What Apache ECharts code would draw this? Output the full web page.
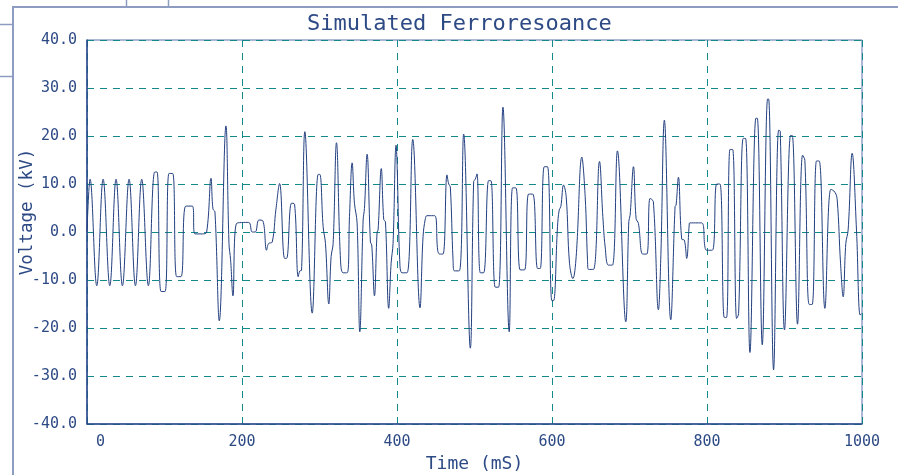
<!DOCTYPE html>
<html>
<head>
<meta charset="utf-8">
<script src="https://cdn.jsdelivr.net/npm/echarts@6/dist/echarts.min.js"></script>
<style>html,body{margin:0;padding:0;background:#fff;}#c{width:898px;height:475px;}</style>
</head>
<body>
<div id="c"></div>
<script>
// ---- data ----
const titleText = 'Simulated Ferroresoance';
const xName = 'Time (mS)';
const yName = 'Voltage (kV)';
const xTicks = [0, 200, 400, 600, 800, 1000];
const yTicks = [-40, -30, -20, -10, 0, 10, 20, 30, 40];

const timeMs = [
  0,4,12.6,20.8,29.4,37.5,45.7,54.3,62.5,70.6,79.2,87.4,90.4,95.5,100.7,105.8,110.6,115.7,121.3,127.5,
  135.9,139.3,148.8,154.4,160,162.5,165.1,170.7,179.3,183.2,185.3,188.3,193,208.5,213.2,217.1,221.8,227,231.7,234.3,
  239,243.7,248.5,255,257.5,263.9,267.8,272.5,274.7,276.8,281.1,290.6,298.3,300.4,304.7,307.7,312,315,317.6,321.9,
  327.1,330.5,335.7,338.7,342.1,345.1,348.5,352,356.3,358,361.4,365.7,367.4,370.9,374.3,375.6,379.7,382.9,385.1,389.3,
  392.4,394.9,398.8,400.1,403.5,406.5,413,420.3,429.7,433.6,436.6,438.7,448.6,452.5,455.1,459.4,464.5,466.7,468.8,472.3,
  474,480.4,486,494.6,498.9,501,503.2,507.5,511.8,518.2,521.2,526.8,531.1,536.7,544.8,549.1,553.4,559,564.6,569.8,
  575.3,581.4,584.8,590,594.2,599.8,602,607.1,609.3,611.4,614.9,618.3,622.6,626.9,631.2,638.5,642.8,645.8,647.1,653.5,
  661.3,665.6,668.6,672.8,678,684.4,695.2,699.1,700.8,705.1,708.5,711.5,717.1,722.3,726.5,730.8,737.3,740.3,745,753.2,
  758.8,760.1,763.1,767.4,770.8,773.8,777.2,778.1,793.1,797.4,799.6,806.9,812.5,816.8,822.3,825.3,829.6,833.1,838.2,840.8,
  846.8,849.8,855.4,863.1,864.9,871.3,878.2,879.5,885.9,892.4,894.5,900,907.8,910,916.8,923.3,926.3,931.9,935.7,941.3,
  944.8,952.1,959.8,965,968,972.3,975.7,979.1,982.1,987.3,992.9,997.6,999.5
];
const voltageKV = [
  0,11,-11.2,11,-11.2,11,-11.2,11,-11.2,11,-11.2,12.5,12.5,-12.4,-12.4,12.2,12.2,-9.3,-9.3,5.4,
  5.4,-0.4,-0.4,0,11.2,4.8,4.2,-18.5,22.1,-2.4,-5.8,-13.3,1.8,2,0,0,2.5,2.3,-3.8,-2.4,
  -2.1,4.6,10.1,-5.5,-5.5,6,5.8,-9.3,-8.1,-8,20.9,-16.9,12,12,1.1,-2.4,-15,-5.1,-2.4,18.6,
  -5.8,-8.5,-8.5,3.2,14.4,6,1.9,-20.8,2.5,4.9,16.2,-2.1,-2.7,-13.3,0,0.4,13.2,2.6,2.1,-15.9,
  -6.5,-2.4,18.1,14.3,-5.8,-8.5,-8.5,19.3,-15.8,-1,2.8,3.4,3.4,-3.8,-4.6,-4.6,11.9,10,9.4,-5.8,
  -8.1,-8.1,20.4,-24.2,10.5,11,12.1,-8.5,-8.5,10.7,10.7,-11.5,-11.5,26,-20.8,9.2,9.2,-7.9,-7.9,7.9,
  7.9,-7.6,-7.6,13.6,13.6,-14.3,-14.3,1.1,4.6,5.3,9.8,7.4,-6.5,-9.7,-5.1,15.6,7.4,-5.8,-7.8,-7.8,
  14.7,3.2,-3.1,-6.9,-6.9,16.9,-18.7,2.2,3.5,13.6,2.8,1.8,-4.6,-4.6,7,6.3,-16.2,-5.8,23.3,-18.3,
  5.3,5.6,11.4,-1.5,-1.7,-5.5,1.8,1.9,1.9,-3.2,-3.8,-3.8,10,10,-17.8,-17.8,17.2,17.2,-18,-17,
  19.5,19.5,-25.1,23.7,23.7,-23.5,27.7,27.7,-28.7,21.2,21,-20.4,20.1,20.1,-19.2,16,14.9,-15.1,-15.1,14.8,
  14.8,-15.9,8.9,8.3,6.7,-6.5,-13.5,-2.4,0.4,16.4,0.4,-17.3,-17
];

const seriesData = timeMs.map((t, i) => [t, voltageKV[i]]);

const TXT = '#2d4a85';
const MONO = 'DejaVu Sans Mono';
const chart = echarts.init(document.getElementById('c'), null, {renderer: 'canvas'});
const frame = '#8d9cc0';
const gridColor = '#13898a';
chart.setOption({
  animation: false,
  backgroundColor: '#ffffff',
  title: {
    text: titleText, left: 302, top: 8,
    textStyle: {fontFamily: MONO, fontSize: 22, fontWeight: 'normal', color: TXT}
  },
  grid: {left: 87, right: 36, top: 40, bottom: 51, show: true, borderColor: '#5a70a8', borderWidth: 1,
         backgroundColor: 'transparent', outerBoundsMode: 'none', containLabel: false},
  xAxis: {
    type: 'value', min: xTicks[0], max: xTicks[xTicks.length - 1], interval: 200,
    name: xName, nameLocation: 'middle', nameGap: 31, nameMoveOverlap: false,
    nameTextStyle: {fontFamily: MONO, fontSize: 18, color: TXT},
    axisLine: {show: true, onZero: false, lineStyle: {color: '#2a4a8a', width: 1.5}},
    axisTick: {show: false},
    axisLabel: {
      margin: 11, fontFamily: MONO, fontSize: 15, color: TXT,
      formatter: v => v === 0 ? '{z|0}' : String(v),
      rich: {z: {fontFamily: MONO, fontSize: 15, color: TXT, padding: [0, 0, 0, 27]}}
    },
    splitLine: {show: true, lineStyle: {color: gridColor, type: [7, 6], width: 1}}
  },
  yAxis: {
    type: 'value', min: yTicks[0], max: yTicks[yTicks.length - 1], interval: 10,
    name: yName, nameLocation: 'middle', nameGap: 51, nameRotate: 90, nameMoveOverlap: false,
    nameTextStyle: {fontFamily: MONO, fontSize: 17.5, color: TXT, padding: [0, 0, 0, 40]},
    axisLine: {show: true, onZero: false, lineStyle: {color: '#2a4a8a', width: 1.5}},
    axisTick: {show: false},
    axisLabel: {margin: 10, fontFamily: MONO, fontSize: 15, color: TXT, formatter: v => v.toFixed(1)},
    splitLine: {show: true, lineStyle: {color: gridColor, type: [7, 6], width: 1}}
  },
  graphic: [
    {type: 'line', shape: {x1: 13, y1: 7, x2: 898, y2: 7}, style: {stroke: frame, lineWidth: 2}, silent: true},
    {type: 'line', shape: {x1: 13, y1: 6, x2: 13, y2: 475}, style: {stroke: frame, lineWidth: 2}, silent: true},
    {type: 'line', shape: {x1: 126.5, y1: 0, x2: 126.5, y2: 7}, style: {stroke: frame, lineWidth: 1.5}, silent: true},
    {type: 'line', shape: {x1: 168.5, y1: 0, x2: 168.5, y2: 7}, style: {stroke: frame, lineWidth: 1.5}, silent: true},
    {type: 'line', shape: {x1: 0, y1: 24.5, x2: 13, y2: 24.5}, style: {stroke: frame, lineWidth: 1.5}, silent: true},
    {type: 'line', shape: {x1: 0, y1: 76.5, x2: 13, y2: 76.5}, style: {stroke: frame, lineWidth: 1.5}, silent: true}
  ],
  series: [{
    type: 'line', data: seriesData, showSymbol: false, smooth: 0.4,
    lineStyle: {color: '#233f80', width: 1},
    clip: true
  }]
});
</script>
</body>
</html>
